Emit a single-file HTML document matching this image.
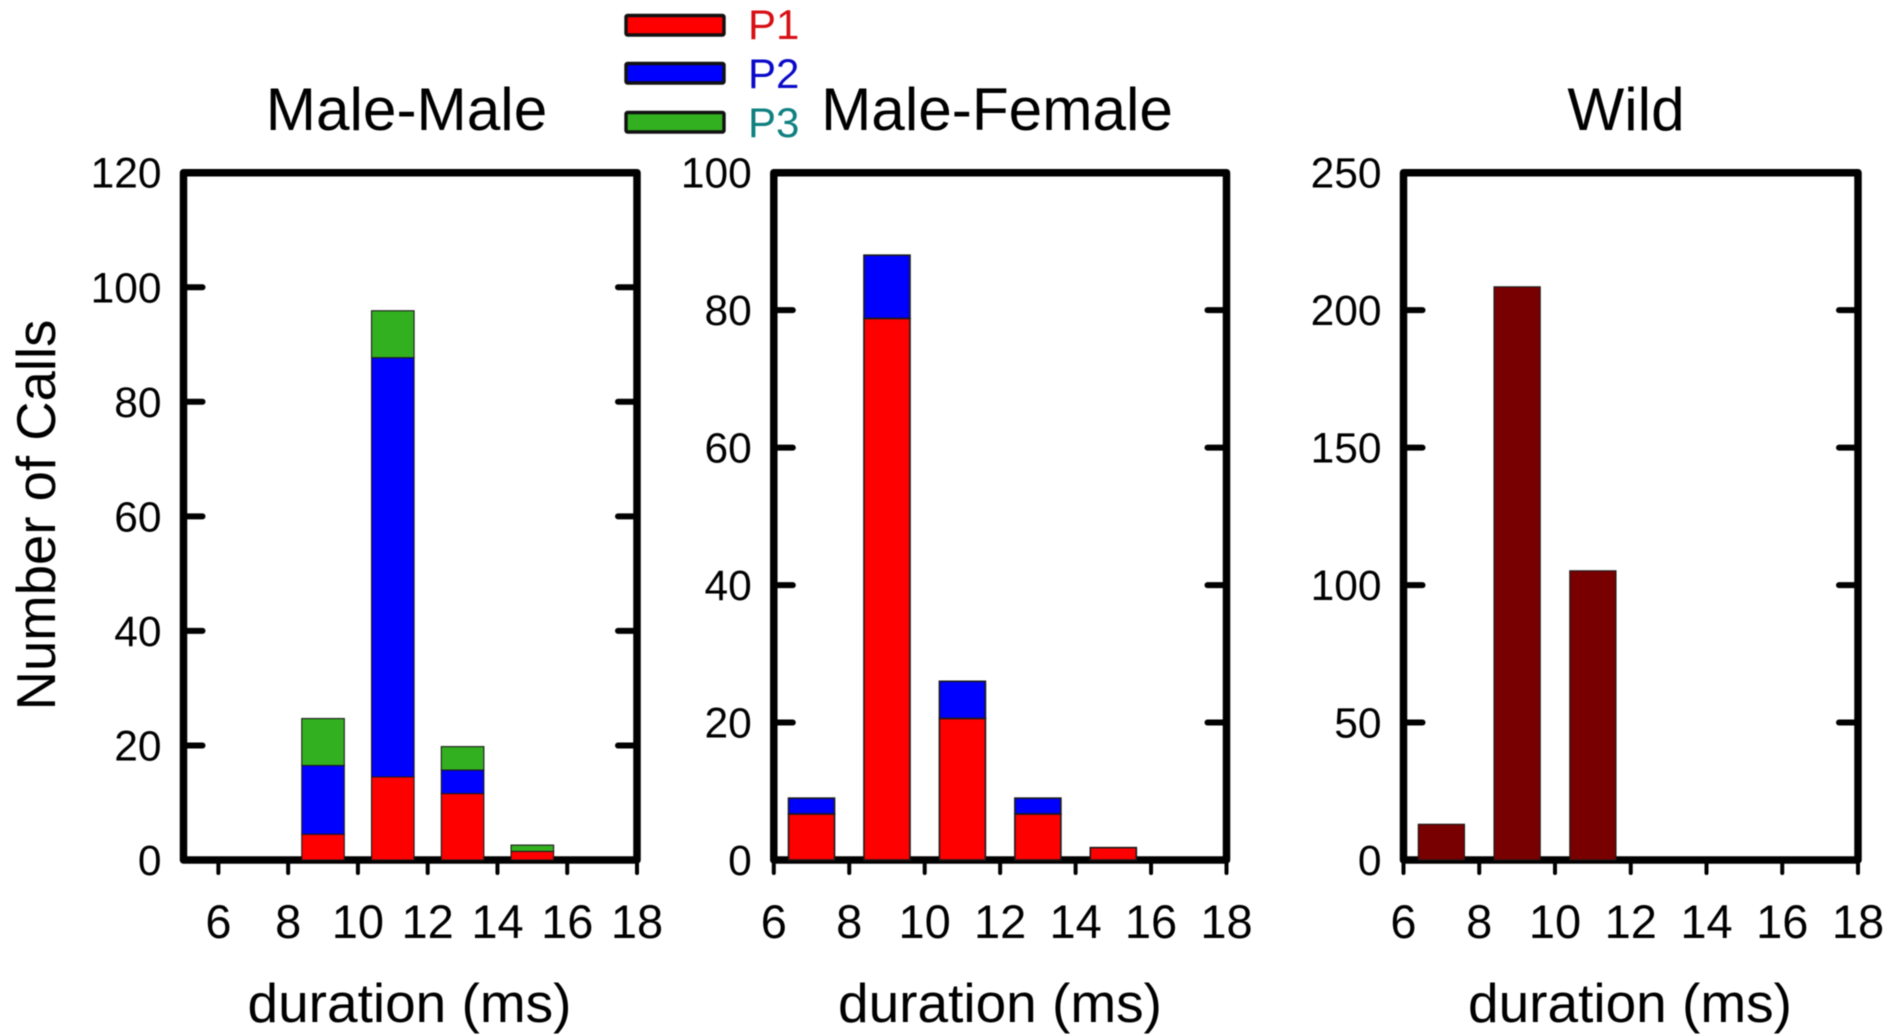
<!DOCTYPE html>
<html lang="en">
<head>
<meta charset="utf-8">
<title>Number of calls by duration</title>
<style>
html,body{margin:0;padding:0;background:#fff;width:1890px;height:1035px;overflow:hidden}
svg{display:block;font-family:"Liberation Sans",Arial,sans-serif;filter:blur(.45px)}
</style>
</head>
<body>
<svg id="chart" xmlns="http://www.w3.org/2000/svg" width="1890" height="1035" viewBox="0 0 1890 1035">
  <rect x="0" y="0" width="1890" height="1035" fill="#fff"/>
  <g id="panels"></g>
  <text transform="translate(55 515) rotate(-90)" text-anchor="middle" font-size="54.5" fill="#000">Number of Calls</text>
  <text x="406.5" y="130" text-anchor="middle" font-size="60.3" fill="#000">Male-Male</text>
  <text x="997" y="130" text-anchor="middle" font-size="60.3" fill="#000">Male-Female</text>
  <text x="1626" y="130" text-anchor="middle" font-size="60.3" fill="#000">Wild</text>
  <g>
    <rect x="626" y="15.5" width="98" height="19.5" rx="1.5" fill="#ff0000" stroke="#111" stroke-width="3.4"/>
    <text x="748" y="39" font-size="42" fill="#d80f14">P1</text>
    <rect x="626" y="63.5" width="98" height="19.5" rx="1.5" fill="#0000ff" stroke="#111" stroke-width="3.4"/>
    <text x="748" y="88" font-size="42" fill="#0a0ac8">P2</text>
    <rect x="626" y="112.5" width="98" height="19.5" rx="1.5" fill="#33b020" stroke="#111" stroke-width="3.4"/>
    <text x="748" y="137" font-size="42" fill="#0f8080">P3</text>
  </g>
</svg>
<script>
// Shared categories and ticks
const durationBins = [7, 9, 11, 13, 15];
const xTickLabels = [6, 8, 10, 12, 14, 16, 18];

// Male-Male: counts per stack segment
const maleMaleP1 = [0, 4.5, 14.5, 11.6, 1.5];
const maleMaleP2 = [0, 12, 73.2, 4.1, 0];
const maleMaleP3 = [0, 8.2, 8.2, 4.1, 1.1];
const maleMaleYTicks = [0, 20, 40, 60, 80, 100, 120];

// Male-Female: counts per stack segment
const maleFemaleP1 = [6.7, 78.8, 20.6, 6.7, 1.8];
const maleFemaleP2 = [2.3, 9.2, 5.4, 2.3, 0];
const maleFemaleYTicks = [0, 20, 40, 60, 80, 100];

// Wild: counts
const wildCounts = [13, 208.5, 105.2, 0, 0];
const wildYTicks = [0, 50, 100, 150, 200, 250];

const SVG_NS = 'http://www.w3.org/2000/svg';
const RED = '#ff0000', BLUE = '#0000ff', GREEN = '#33b020', DARK_RED = '#780000';
const Y_TOP = 172.7, Y_BOTTOM = 860;
const BAR_WIDTH_UNITS = 1.22;

const panelDefs = [
  { key: 'male-male', left: 183.5, right: 637, xMin: 5, xMax: 18, yMax: 120, yTicks: maleMaleYTicks, xLabelX: 409.5, barStroke: 1.1,
    series: [{ name: 'p1', color: RED, values: maleMaleP1 }, { name: 'p2', color: BLUE, values: maleMaleP2 }, { name: 'p3', color: GREEN, values: maleMaleP3 }] },
  { key: 'male-female', left: 773.8, right: 1226.5, xMin: 6, xMax: 18, yMax: 100, yTicks: maleFemaleYTicks, xLabelX: 1000, barStroke: 1.6,
    series: [{ name: 'p1', color: RED, values: maleFemaleP1 }, { name: 'p2', color: BLUE, values: maleFemaleP2 }] },
  { key: 'wild', left: 1403.5, right: 1858, xMin: 6, xMax: 18, yMax: 250, yTicks: wildYTicks, xLabelX: 1630, barStroke: 1.1,
    series: [{ name: 'all', color: DARK_RED, values: wildCounts }] }
];

function shape(parent, tag, props) {
  const el = document.createElementNS(SVG_NS, tag);
  for (const k in props) el.setAttribute(k, props[k]);
  parent.appendChild(el);
  return el;
}

const panelsRoot = document.getElementById('panels');

panelDefs.forEach(function (p) {
  const xScale = function (v) { return p.left + (v - p.xMin) / (p.xMax - p.xMin) * (p.right - p.left); };
  const yScale = function (v) { return Y_BOTTOM - v / p.yMax * (Y_BOTTOM - Y_TOP); };

  const g = shape(panelsRoot, 'g', {});
  
  

  // Frame
  const frame = shape(g, 'path', {
    d: 'M' + p.left + ' ' + Y_BOTTOM + 'V' + Y_TOP + 'H' + p.right + 'V' + Y_BOTTOM + 'Z',
    fill: 'none', stroke: '#000', 'stroke-width': 7.5, 'stroke-linejoin': 'round'
  });
  
  

  // X ticks and labels
  xTickLabels.forEach(function (v) {
    const tick = shape(g, 'line', {
      x1: xScale(v), x2: xScale(v), y1: Y_BOTTOM + 3, y2: Y_BOTTOM + 13,
      stroke: '#000', 'stroke-width': 4, 'stroke-linecap': 'round'
    });
    
    
    const label = shape(g, 'text', { x: xScale(v), y: 938, 'text-anchor': 'middle', 'font-size': 47, fill: '#000' });
    label.textContent = v;
    
    
  });

  // Y ticks and labels
  p.yTicks.forEach(function (v) {
    const y = yScale(v);
    if (v > 0 && v < p.yMax) {
      const tickL = shape(g, 'line', {
        x1: p.left + 3, x2: p.left + 19, y1: y, y2: y,
        stroke: '#000', 'stroke-width': 6, 'stroke-linecap': 'round'
      });
      
      
      const tickR = shape(g, 'line', {
        x1: p.right - 3, x2: p.right - 19, y1: y, y2: y,
        stroke: '#000', 'stroke-width': 6, 'stroke-linecap': 'round'
      });
      
      
    }
    const label = shape(g, 'text', { x: p.left - 22, y: y + 15, 'text-anchor': 'end', 'font-size': 42.5, fill: '#000' });
    label.textContent = v;
    
    
  });

  // Stacked bars
  durationBins.forEach(function (bin, i) {
    let base = 0;
    p.series.forEach(function (s) {
      const value = s.values[i];
      if (value <= 0) return;
      const x0 = xScale(bin - BAR_WIDTH_UNITS / 2);
      const x1 = xScale(bin + BAR_WIDTH_UNITS / 2);
      const yTop = yScale(base + value);
      const yBase = yScale(base);
      const bar = shape(g, 'rect', {
        x: x0, y: yTop, width: x1 - x0, height: yBase - yTop,
        fill: s.color, stroke: '#1a1a1a', 'stroke-width': p.barStroke
      });
      
      
      base += value;
    });
  });

  // X axis title
  const xTitle = shape(g, 'text', { x: p.xLabelX, y: 1022, 'text-anchor': 'middle', 'font-size': 55, fill: '#000' });
  xTitle.textContent = 'duration (ms)';
  
  
});
</script>
</body>
</html>
